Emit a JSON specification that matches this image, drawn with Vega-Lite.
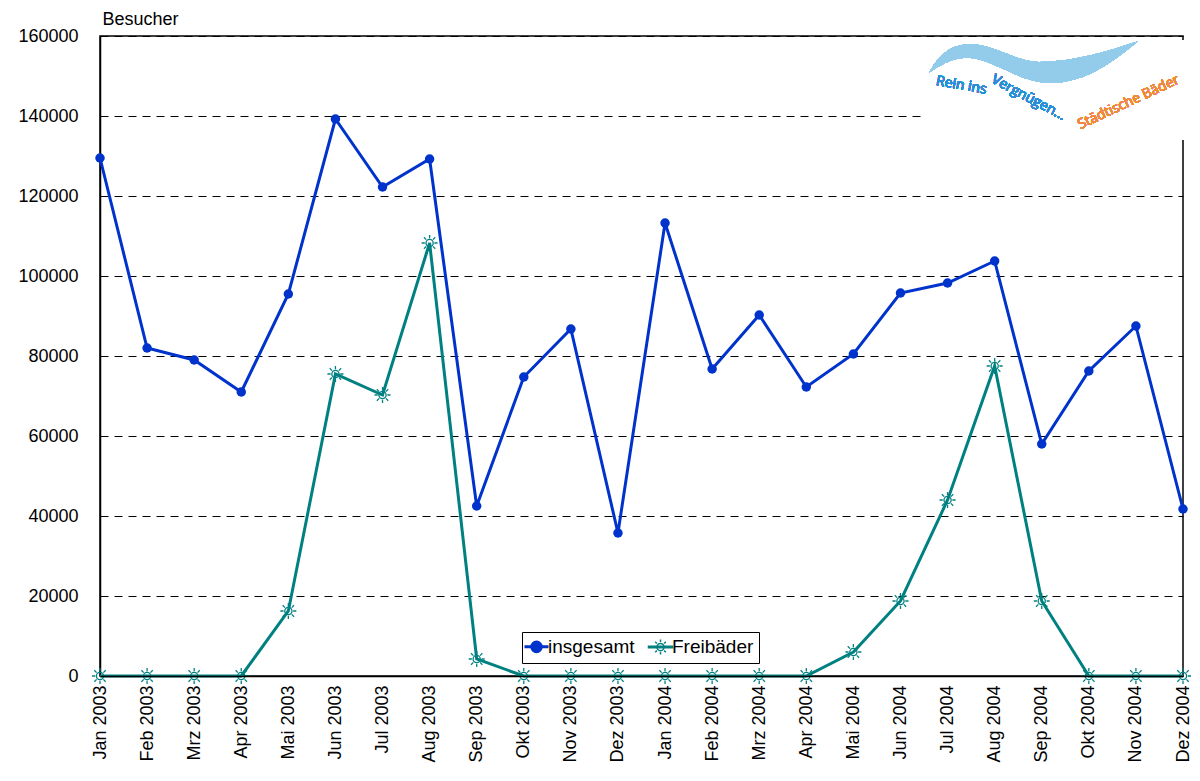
{
  "$schema": "https://vega.github.io/schema/vega-lite/v6.json",
  "width": 1083,
  "height": 640,
  "autosize": {"type": "none"},
  "padding": {"left": 100, "top": 36, "right": 17, "bottom": 105},
  "background": "white",
  "config": {
    "font": "Liberation Sans",
    "view": {"stroke": "black", "strokeWidth": 1.5},
    "axis": {"labelColor": "black", "titleColor": "black", "labelFont": "Liberation Sans", "titleFont": "Liberation Sans"}
  },
  "datasets": {
    "main": [
      {"Monat": "Jan 2003", "Serie": "insgesamt", "Besucher": 129500},
      {"Monat": "Feb 2003", "Serie": "insgesamt", "Besucher": 82000},
      {"Monat": "Mrz 2003", "Serie": "insgesamt", "Besucher": 79000},
      {"Monat": "Apr 2003", "Serie": "insgesamt", "Besucher": 71000},
      {"Monat": "Mai 2003", "Serie": "insgesamt", "Besucher": 95500},
      {"Monat": "Jun 2003", "Serie": "insgesamt", "Besucher": 139250},
      {"Monat": "Jul 2003", "Serie": "insgesamt", "Besucher": 122250},
      {"Monat": "Aug 2003", "Serie": "insgesamt", "Besucher": 129250},
      {"Monat": "Sep 2003", "Serie": "insgesamt", "Besucher": 42500},
      {"Monat": "Okt 2003", "Serie": "insgesamt", "Besucher": 74750},
      {"Monat": "Nov 2003", "Serie": "insgesamt", "Besucher": 86750},
      {"Monat": "Dez 2003", "Serie": "insgesamt", "Besucher": 35750},
      {"Monat": "Jan 2004", "Serie": "insgesamt", "Besucher": 113250},
      {"Monat": "Feb 2004", "Serie": "insgesamt", "Besucher": 76750},
      {"Monat": "Mrz 2004", "Serie": "insgesamt", "Besucher": 90250},
      {"Monat": "Apr 2004", "Serie": "insgesamt", "Besucher": 72250},
      {"Monat": "Mai 2004", "Serie": "insgesamt", "Besucher": 80500},
      {"Monat": "Jun 2004", "Serie": "insgesamt", "Besucher": 95750},
      {"Monat": "Jul 2004", "Serie": "insgesamt", "Besucher": 98250},
      {"Monat": "Aug 2004", "Serie": "insgesamt", "Besucher": 103750},
      {"Monat": "Sep 2004", "Serie": "insgesamt", "Besucher": 58000},
      {"Monat": "Okt 2004", "Serie": "insgesamt", "Besucher": 76250},
      {"Monat": "Nov 2004", "Serie": "insgesamt", "Besucher": 87500},
      {"Monat": "Dez 2004", "Serie": "insgesamt", "Besucher": 41750},
      {"Monat": "Jan 2003", "Serie": "Freibäder", "Besucher": 0},
      {"Monat": "Feb 2003", "Serie": "Freibäder", "Besucher": 0},
      {"Monat": "Mrz 2003", "Serie": "Freibäder", "Besucher": 0},
      {"Monat": "Apr 2003", "Serie": "Freibäder", "Besucher": 0},
      {"Monat": "Mai 2003", "Serie": "Freibäder", "Besucher": 16250},
      {"Monat": "Jun 2003", "Serie": "Freibäder", "Besucher": 75500},
      {"Monat": "Jul 2003", "Serie": "Freibäder", "Besucher": 70250},
      {"Monat": "Aug 2003", "Serie": "Freibäder", "Besucher": 108250},
      {"Monat": "Sep 2003", "Serie": "Freibäder", "Besucher": 4250},
      {"Monat": "Okt 2003", "Serie": "Freibäder", "Besucher": 0},
      {"Monat": "Nov 2003", "Serie": "Freibäder", "Besucher": 0},
      {"Monat": "Dez 2003", "Serie": "Freibäder", "Besucher": 0},
      {"Monat": "Jan 2004", "Serie": "Freibäder", "Besucher": 0},
      {"Monat": "Feb 2004", "Serie": "Freibäder", "Besucher": 0},
      {"Monat": "Mrz 2004", "Serie": "Freibäder", "Besucher": 0},
      {"Monat": "Apr 2004", "Serie": "Freibäder", "Besucher": 0},
      {"Monat": "Mai 2004", "Serie": "Freibäder", "Besucher": 6000},
      {"Monat": "Jun 2004", "Serie": "Freibäder", "Besucher": 18750},
      {"Monat": "Jul 2004", "Serie": "Freibäder", "Besucher": 44000},
      {"Monat": "Aug 2004", "Serie": "Freibäder", "Besucher": 77500},
      {"Monat": "Sep 2004", "Serie": "Freibäder", "Besucher": 18750},
      {"Monat": "Okt 2004", "Serie": "Freibäder", "Besucher": 0},
      {"Monat": "Nov 2004", "Serie": "Freibäder", "Besucher": 0},
      {"Monat": "Dez 2004", "Serie": "Freibäder", "Besucher": 0}
    ]
  },
  "data": {"name": "main"},
  "encoding": {
    "x": {
      "field": "Monat", "type": "nominal", "sort": null,
      "scale": {"type": "point", "padding": 0,
        "domain": ["Jan 2003", "Feb 2003", "Mrz 2003", "Apr 2003", "Mai 2003", "Jun 2003", "Jul 2003", "Aug 2003", "Sep 2003", "Okt 2003", "Nov 2003", "Dez 2003", "Jan 2004", "Feb 2004", "Mrz 2004", "Apr 2004", "Mai 2004", "Jun 2004", "Jul 2004", "Aug 2004", "Sep 2004", "Okt 2004", "Nov 2004", "Dez 2004"]},
      "axis": {"title": null, "labelAngle": -90, "labelAlign": "right", "labelBaseline": "middle", "labelFontSize": 18, "labelPadding": 9, "ticks": false, "domainColor": "black", "domainWidth": 1.5, "grid": false}
    },
    "y": {
      "field": "Besucher", "type": "quantitative",
      "scale": {"domain": [0, 160000], "nice": false, "zero": true},
      "axis": {
        "values": [0, 20000, 40000, 60000, 80000, 100000, 120000, 140000, 160000],
        "format": "d", "labelFontSize": 18, "labelPadding": 22, "ticks": false,
        "domainColor": "black", "domainWidth": 1.5,
        "grid": true, "gridColor": "black", "gridDash": [8, 6], "gridWidth": 1,
        "title": "Besucher", "titleAngle": 0, "titleAlign": "left", "titleBaseline": "alphabetic",
        "titleX": 2, "titleY": -12, "titleFontSize": 18, "titleFontWeight": "normal"
      }
    }
  },
  "layer": [
    {
      "mark": {"type": "rect", "color": "white", "x2Offset": 30, "xOffset": -22},
      "encoding": {
        "x": {"datum": "Jul 2004"},
        "x2": {"datum": "Dez 2004"},
        "y": {"datum": 159000},
        "y2": {"datum": 134000}
      }
    },
    {
      "mark": {"type": "point", "filled": true, "color": "#93cceb", "opacity": 1, "size": 43500,
        "shape": "M-1,0.1 C-0.9,-0.1 -0.75,-0.18 -0.6,-0.17 C-0.35,-0.16 -0.15,0.01 0.06,0.0 C0.4,-0.01 0.7,-0.1 1,-0.2 C0.7,0.05 0.45,0.2 0.16,0.2 C-0.15,0.2 -0.4,-0.04 -0.64,-0.04 C-0.8,-0.04 -0.92,0.05 -1,0.1 Z",
        "xOffset": -8},
      "encoding": {"x": {"datum": "Sep 2004"}, "y": {"datum": 153500}}
    },
    {
      "mark": {"type": "text", "text": "Rein ins", "font": "Open Sans", "color": "#2a8fd6", "fontSize": 14, "angle": 10, "align": "center", "baseline": "middle", "dx": 14},
      "encoding": {"x": {"datum": "Jul 2004"}, "y": {"datum": 148250}}
    },
    {
      "mark": {"type": "text", "text": "Vergnügen...", "font": "Open Sans", "color": "#2a8fd6", "fontSize": 14, "angle": 28, "align": "center", "baseline": "middle", "dx": -15},
      "encoding": {"x": {"datum": "Sep 2004"}, "y": {"datum": 142800}}
    },
    {
      "mark": {"type": "text", "text": "Städtische Bäder", "font": "Open Sans", "color": "#f08a3c", "fontSize": 14, "angle": -25, "align": "center", "baseline": "middle", "dx": -8},
      "encoding": {"x": {"datum": "Nov 2004"}, "y": {"datum": 144250}}
    },
    {
      "mark": {"type": "line", "strokeWidth": 3},
      "encoding": {
        "color": {
          "field": "Serie", "type": "nominal",
          "scale": {"domain": ["insgesamt", "Freibäder"], "range": ["#0033cc", "#008080"]},
          "legend": {
            "orient": "none", "legendX": 422, "legendY": 596, "direction": "horizontal",
            "title": null, "strokeColor": "black", "fillColor": "white", "padding": 5,
            "labelFontSize": 19, "labelFont": "Liberation Sans", "labelColor": "black",
            "symbolSize": 576, "columnPadding": 10, "labelOffset": 2,
            "encode": {
              "symbols": {
                "update": {
                  "shape": {"signal": "datum.value === 'insgesamt' ? 'M-1,0L1,0M0.4,0A0.4,0.4 0 1 1 -0.4,0A0.4,0.4 0 1 1 0.4,0Z' : 'M-1,-0.06L1,-0.06L1,0.06L-1,0.06Z M0.3,0A0.3,0.3 0 1 1 -0.3,0A0.3,0.3 0 1 1 0.3,0Z M0,-0.42L0,-0.62 M0,0.42L0,0.62 M-0.42,0L-0.62,0 M0.42,0L0.62,0 M0.3,0.3L0.44,0.44 M-0.3,0.3L-0.44,0.44 M0.3,-0.3L0.44,-0.44 M-0.3,-0.3L-0.44,-0.44'"},
                  "fill": {"signal": "datum.value === 'insgesamt' ? '#0033cc' : 'transparent'"},
                  "strokeWidth": {"signal": "datum.value === 'insgesamt' ? 3 : 1.5"}
                }
              }
            }
          }
        }
      }
    },
    {
      "transform": [{"filter": "datum.Serie === 'insgesamt'"}],
      "mark": {"type": "point", "filled": true, "color": "#0033cc", "size": 90, "opacity": 1}
    },
    {
      "transform": [{"filter": "datum.Serie === 'Freibäder'"}],
      "mark": {"type": "point", "filled": false, "color": "#008080", "size": 256, "strokeWidth": 1.3, "opacity": 1,
        "shape": "M0.45,0A0.45,0.45 0 1 1 -0.45,0A0.45,0.45 0 1 1 0.45,0Z M0,-0.6L0,-1 M0,0.6L0,1 M-0.6,0L-1,0 M0.6,0L1,0 M0.42,0.42L0.71,0.71 M-0.42,0.42L-0.71,0.71 M0.42,-0.42L0.71,-0.71 M-0.42,-0.42L-0.71,-0.71"}
    }
  ]
}
